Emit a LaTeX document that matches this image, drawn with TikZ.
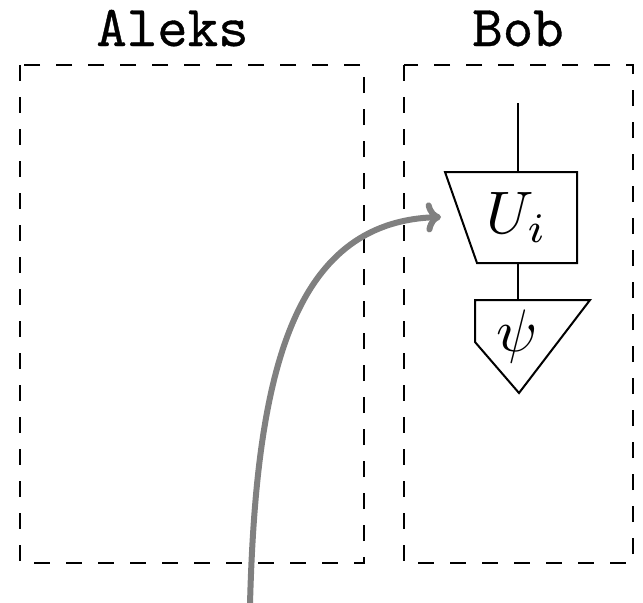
\documentclass[tikz,border=0pt]{standalone}
\usepackage{fontspec}
\newfontfamily\partyfont{Latin Modern Mono}[FakeBold=0.6]
\usetikzlibrary{arrows.meta}
\tikzset{
  party/.style={draw=black, line width=1pt, dash pattern=on 8pt off 8pt},
  gate/.style={draw=black, line width=1pt, fill=white, line join=miter},
  wire/.style={draw=black, line width=1pt},
  lbl/.style={font=\partyfont, scale=2.9, anchor=base, inner sep=0pt},
  mlbl/.style={scale=3, inner sep=0pt},
  flow/.style={draw=black!50, line width=3pt, line cap=round, -{To[length=7.5pt,width=15pt,round]}}
}
\begin{document}
\begin{tikzpicture}[x=0.5pt, y=-0.5pt]
\useasboundingbox (0,0) rectangle (643,602);
% party boxes
\draw[party] (20,65) rectangle (364,563);
\draw[party] (404,65) rectangle (633,563);
\node[lbl] (aleks) at (172.5,46) {Aleks};
\node[lbl] (bob) at (518,46) {Bob};
% wire in
\coordinate (win) at (518,103);
\coordinate (utop) at (518,172);
\coordinate (ubot) at (518,263);
\coordinate (ptop) at (518,300);
\draw[wire] (win) -- (utop);
\draw[wire] (ubot) -- (ptop);
% unitary trapezoid
\draw[gate] (445,172) -- (577,172) -- (577,263) -- (477,263) -- cycle;
\node[mlbl] (U) at (517,217) {$U_i$};
% state triangle
\draw[gate] (475,300) -- (590,300) -- (519,393) -- (475,342) -- cycle;
\node[mlbl] (psi) at (517,336) {$\psi$};
% grey arrow
\coordinate (fstart) at (250,604);
\coordinate (fend) at (441,217);
\draw[flow] (fstart) .. controls (256,380) and (290,222) .. (fend);
\end{tikzpicture}
\end{document}
